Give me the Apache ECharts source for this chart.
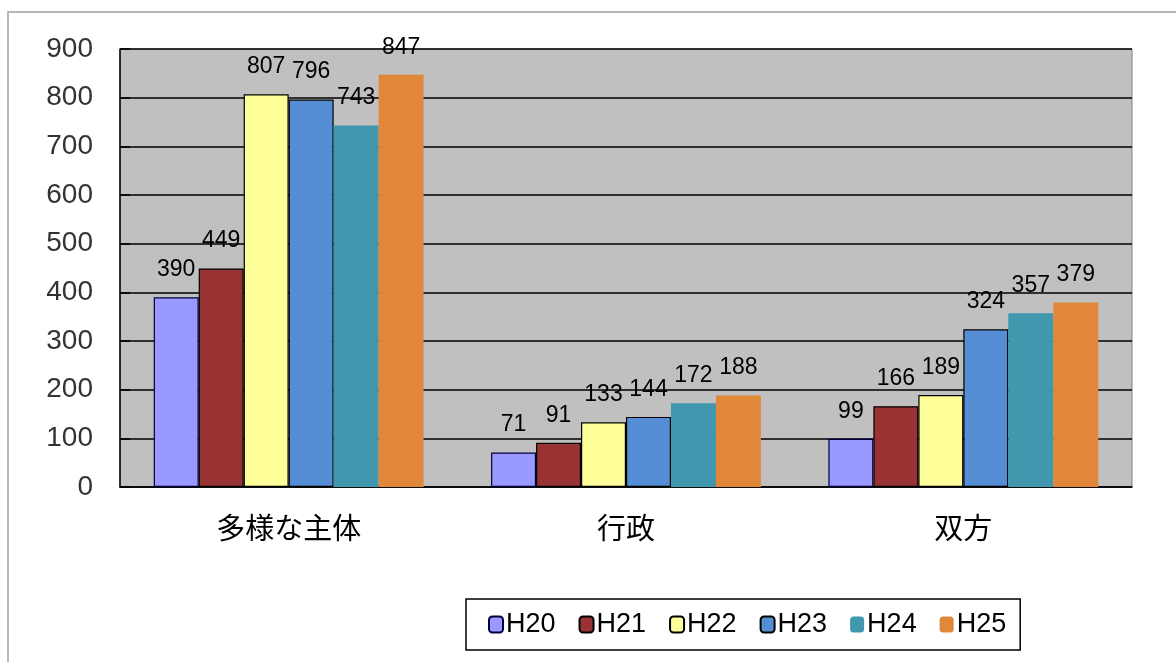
<!DOCTYPE html>
<html><head><meta charset="utf-8">
<script src="https://cdn.jsdelivr.net/npm/echarts@6/dist/echarts.min.js"></script>
<style>html,body{margin:0;padding:0;background:#fff}#c{width:1176px;height:662px}</style>
</head><body><div id="c"></div>
<script>
const categories = ['多様な主体', '行政', '双方'];
const seriesNames = ['H20', 'H21', 'H22', 'H23', 'H24', 'H25'];
const H20 = [390, 71, 99];
const H21 = [449, 91, 166];
const H22 = [807, 133, 189];
const H23 = [796, 144, 324];
const H24 = [743, 172, 357];
const H25 = [847, 188, 379];
const yTicks = [0, 100, 200, 300, 400, 500, 600, 700, 800, 900];

const values = [H20, H21, H22, H23, H24, H25];
const colors = ['#9999FF', '#993333', '#FFFF99', '#558ED5', '#4198AE', '#E0873A'];
const borders = ['#000040', '#000000', '#000000', '#000000', null, null];

const chart = echarts.init(document.getElementById('c'));
chart.setOption({
  animation: false,
  textStyle: { fontFamily: 'Liberation Sans, Arial, sans-serif' },
  graphic: [{
    type: 'rect', shape: { x: 8, y: 12, width: 1200, height: 700 },
    style: { fill: 'none', stroke: '#a0a0a0', lineWidth: 1.5 }, z: -10
  }],
  grid: {
    left: 120, right: 44, top: 49, bottom: 175,
    show: true, backgroundColor: '#C0C0C0', borderColor: '#808080', borderWidth: 1
  },
  legend: {
    data: seriesNames,
    left: 466, top: 599,
    padding: [12, 14, 12, 22],
    borderColor: '#000', borderWidth: 1.5, backgroundColor: '#fff',
    itemWidth: 14, itemHeight: 16, itemGap: 23,
    textStyle: { fontSize: 27, color: '#000', fontFamily: 'Liberation Sans, Arial, sans-serif', padding: [0, 0, 0, -2] }
  },
  xAxis: {
    type: 'category', data: categories,
    axisLine: { lineStyle: { color: '#000', width: 1.5 } },
    axisTick: { inside: true, length: 8, lineStyle: { color: '#000', width: 1.5 } },
    axisLabel: { fontSize: 29, color: '#000', margin: 26, fontFamily: 'Noto Sans CJK JP, sans-serif' }
  },
  yAxis: {
    type: 'value', min: 0, max: 900, interval: 100,
    axisLine: { show: true, lineStyle: { color: '#000', width: 1.5 } },
    axisTick: { show: true, inside: true, length: 10, lineStyle: { color: '#000', width: 1.5 } },
    axisLabel: { fontSize: 28, color: '#333', margin: 27,
      formatter: v => yTicks.includes(v) ? String(v) : '' },
    splitLine: { lineStyle: { color: '#000', width: 1.5 } }
  },
  series: seriesNames.map((n, i) => ({
    name: n, type: 'bar', data: values[i],
    barGap: '0%', barCategoryGap: '20%',
    itemStyle: { color: colors[i], borderColor: borders[i] || colors[i], borderWidth: borders[i] ? 1.2 : 0 },
    label: { show: true, position: 'top', distance: 16, fontSize: 23, color: '#000' }
  }))
});
</script></body></html>
